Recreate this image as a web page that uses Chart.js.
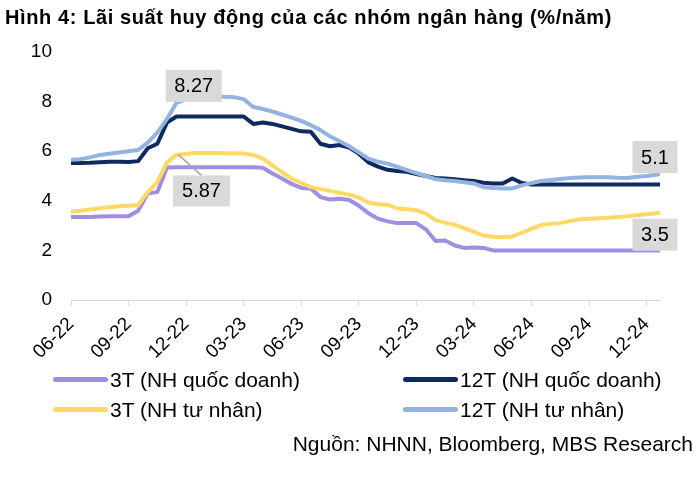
<!DOCTYPE html>
<html>
<head>
<meta charset="utf-8">
<script src="https://cdn.jsdelivr.net/npm/chart.js@4.4.0/dist/chart.umd.min.js"></script>
<style>
  body { margin: 0; background: #fff; }
  #wrap { position: relative; width: 700px; height: 482px; font-family: "Liberation Sans", Arial, sans-serif; color: #000; }
  #c { position: absolute; left: 0; top: 0; }
  .title { position: absolute; left: 5px; top: 7px; font-size: 20px; line-height: 20px; font-weight: bold; letter-spacing: 0.6px; white-space: nowrap; }
  .leg { position: absolute; font-size: 21px; line-height: 21px; white-space: nowrap; }
  .leg span { display: inline-block; width: 55px; height: 5px; border-radius: 3px; vertical-align: middle; margin-right: 2px; position: relative; top: -2px; }
  .src { position: absolute; right: 7px; top: 433px; font-size: 21px; line-height: 21px; white-space: nowrap; }
</style>
</head>
<body>
<div id="wrap">
  <canvas id="c" width="700" height="482"></canvas>
  <div class="title">Hình 4: Lãi suất huy động của các nhóm ngân hàng (%/năm)</div>
  <div class="leg" style="left:53px;top:369px"><span style="background:#a08fe0"></span>3T (NH quốc doanh)</div>
  <div class="leg" style="left:403px;top:369px"><span style="background:#0f2a60"></span>12T (NH quốc doanh)</div>
  <div class="leg" style="left:53px;top:399px"><span style="background:#ffd966"></span>3T (NH tư nhân)</div>
  <div class="leg" style="left:403px;top:399px"><span style="background:#95b3e0"></span>12T (NH tư nhân)</div>
  <div class="src">Nguồn: NHNN, Bloomberg, MBS Research</div>
</div>
<script>
// ==== DATA ====
// thoi gian tinh theo thang, 0 = dau thang 06-2022 (moi nua thang)
const months = [0,0.5,1,1.5,2,2.5,3,3.5,4,4.5,5,5.5,6,6.5,7,7.5,8,8.5,9,9.5,
  10,10.5,11,11.5,12,12.5,13,13.5,14,14.5,15,15.5,16,16.5,17,17.5,18,18.5,19,19.5,
  20,20.5,21,21.5,22,22.5,23,23.5,24,24.5,25,25.5,26,26.5,27,27.5,28,28.5,29,29.5,
  30,30.5,30.7];

const tickMonths = [0,3,6,9,12,15,18,21,24,27,30];
const tickLabels = ['06-22','09-22','12-22','03-23','06-23','09-23','12-23','03-24','06-24','09-24','12-24'];

// 3T NH quoc doanh
const qd3 = [3.35,3.35,3.35,3.37,3.38,3.38,3.38,3.6,4.3,4.35,5.34,5.35,5.35,5.35,5.35,5.35,5.35,5.35,5.35,5.35,
  5.33,5.1,4.9,4.68,4.52,4.5,4.15,4.05,4.08,4.03,3.8,3.5,3.28,3.17,3.1,3.1,3.1,2.85,2.38,2.4,
  2.2,2.1,2.12,2.1,2.0,2.0,2.0,2.0,2.0,2.0,2.0,2.0,2.0,2.0,2.0,2.0,2.0,2.0,2.0,2.0,
  2.0,2.0,2.0];

// 12T NH quoc doanh
const qd12 = [5.52,5.52,5.53,5.55,5.57,5.57,5.56,5.6,6.12,6.3,7.15,7.4,7.4,7.4,7.4,7.4,7.4,7.4,7.4,7.1,
  7.16,7.1,7.0,6.9,6.8,6.78,6.3,6.2,6.25,6.15,5.9,5.55,5.38,5.25,5.2,5.17,5.08,5.0,4.92,4.9,
  4.87,4.83,4.8,4.73,4.7,4.7,4.9,4.72,4.66,4.66,4.66,4.66,4.66,4.66,4.66,4.66,4.66,4.66,4.66,4.66,
  4.66,4.66,4.66];

// 3T NH tu nhan
const tn3 = [3.57,3.6,3.65,3.7,3.74,3.78,3.8,3.82,4.35,4.75,5.55,5.85,5.9,5.93,5.93,5.93,5.92,5.92,5.91,5.85,
  5.7,5.43,5.16,4.9,4.72,4.55,4.47,4.4,4.32,4.25,4.13,3.93,3.86,3.84,3.7,3.66,3.62,3.48,3.22,3.12,
  3.03,2.9,2.75,2.6,2.55,2.53,2.56,2.72,2.87,3.02,3.07,3.1,3.18,3.25,3.28,3.3,3.32,3.35,3.38,3.42,
  3.46,3.5,3.52];

// 12T NH tu nhan
const tn12 = [5.65,5.68,5.75,5.85,5.9,5.95,6.0,6.05,6.35,6.75,7.3,7.95,8.1,8.27,8.25,8.22,8.2,8.18,8.1,7.78,
  7.7,7.6,7.48,7.35,7.22,7.05,6.85,6.6,6.4,6.2,5.95,5.7,5.58,5.5,5.38,5.25,5.12,5.0,4.87,4.83,
  4.8,4.75,4.7,4.55,4.52,4.5,4.5,4.62,4.72,4.8,4.84,4.88,4.92,4.94,4.95,4.95,4.95,4.93,4.92,4.97,
  5.0,5.05,5.08];

const FONT = '"Liberation Sans", Arial, sans-serif';
Chart.defaults.font.family = FONT;
Chart.defaults.color = '#000';

function toPoints(arr) {
  return months.map((m, i) => ({ x: m, y: arr[i] }));
}

// ==== LABEL KOTAK ====
const boxLabels = [
  { text: '8.27', series: tn12, idx: 13, dx: -2, dy: -9, w: 56, h: 32 },
  { text: '5.87', series: tn3, idx: 11, dx: 25, dy: 36, w: 57, h: 31, leader: true },
  { text: '5.1', series: tn12, idx: 62, dx: -5, dy: -17, w: 45, h: 32 },
  { text: '3.5', series: tn3, idx: 62, dx: -5, dy: 22, w: 45, h: 32 }
];

const boxLabelPlugin = {
  id: 'boxLabels',
  afterDatasetsDraw(chart) {
    const ctx = chart.ctx;
    const xs = chart.scales.x, ys = chart.scales.y;
    ctx.save();
    boxLabels.forEach(l => {
      const px = xs.getPixelForValue(months[l.idx]);
      const py = ys.getPixelForValue(l.series[l.idx]);
      const cx = px + l.dx, cy = py + l.dy;
      if (l.leader) {
        ctx.strokeStyle = '#a6a6a6';
        ctx.lineWidth = 1.5;
        ctx.beginPath();
        ctx.moveTo(px + 2, py);
        ctx.lineTo(cx, cy - l.h / 2);
        ctx.stroke();
      }
      ctx.fillStyle = '#d9d9d9';
      ctx.fillRect(cx - l.w / 2, cy - l.h / 2, l.w, l.h);
      ctx.fillStyle = '#000';
      ctx.font = '20px ' + FONT;
      ctx.textAlign = 'center';
      ctx.textBaseline = 'middle';
      ctx.fillText(l.text, cx, cy + 1);
    });
    ctx.restore();
  }
};

const lineStyle = { borderWidth: 4, pointRadius: 0, tension: 0, borderCapStyle: 'round', borderJoinStyle: 'round' };

new Chart(document.getElementById('c').getContext('2d'), {
  type: 'line',
  data: {
    datasets: [
      { label: '3T (NH quốc doanh)', data: toPoints(qd3), borderColor: '#a08fe0', order: 3, ...lineStyle },
      { label: '12T (NH quốc doanh)', data: toPoints(qd12), borderColor: '#0f2a60', order: 2, ...lineStyle },
      { label: '3T (NH tư nhân)', data: toPoints(tn3), borderColor: '#ffd966', order: 1, ...lineStyle },
      { label: '12T (NH tư nhân)', data: toPoints(tn12), borderColor: '#95b3e0', order: 0, ...lineStyle }
    ]
  },
  options: {
    responsive: false,
    animation: false,
    layout: { padding: { left: 0, top: 52, right: 40, bottom: 112 } },
    plugins: { legend: { display: false }, tooltip: { enabled: false } },
    scales: {
      x: {
        type: 'linear',
        min: 0,
        max: 30.7,
        afterBuildTicks: s => { s.ticks = tickMonths.map(v => ({ value: v })); },
        afterFit: s => { s.height = 70; },
        grid: { display: true, drawOnChartArea: false, drawTicks: true, tickLength: 6, color: '#d9d9d9' },
        border: { display: true, color: '#d9d9d9', width: 1 },
        ticks: {
          autoSkip: false,
          minRotation: 45,
          maxRotation: 45,
          padding: 7,
          font: { size: 19 },
          callback: v => tickLabels[tickMonths.indexOf(v)]
        }
      },
      y: {
        min: 0,
        max: 10,
        afterFit: s => { s.width = 71; },
        grid: { display: false, drawTicks: false },
        border: { display: false },
        ticks: { stepSize: 2, padding: 19, font: { size: 19 } }
      }
    }
  },
  plugins: [boxLabelPlugin]
});
</script>
</body>
</html>
